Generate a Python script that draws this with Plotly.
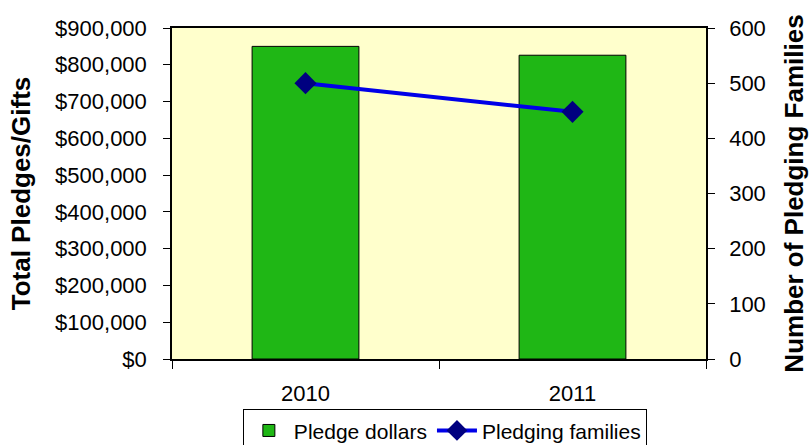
import plotly.graph_objects as go

years = ["2010", "2011"]
pledge_dollars = [850000, 826000]
pledging_families = [500, 448]

FONT = "Liberation Sans, Arial, sans-serif"

fig = go.Figure()
fig.add_trace(go.Bar(
    x=years, y=pledge_dollars, name="Pledge dollars",
    marker=dict(color="#1FB715", line=dict(color="#000000", width=1)),
    width=0.4, yaxis="y",
))
fig.add_trace(go.Scatter(
    x=years, y=pledging_families, name="Pledging families",
    mode="lines+markers",
    line=dict(color="#0000E8", width=4),
    marker=dict(symbol="diamond", size=17, color="#000080"),
    yaxis="y2",
))

fig.update_layout(
    width=809, height=445,
    margin=dict(l=172, r=103, t=28, b=86, autoexpand=False),
    paper_bgcolor="white", plot_bgcolor="#FFFFCC",
    font=dict(family=FONT, size=22, color="#000000"),
    showlegend=True,
    legend=dict(
        orientation="h", x=0.511, xanchor="center", y=-0.152, yanchor="top",
        bordercolor="#000000", borderwidth=1, bgcolor="white",
        font=dict(family=FONT, size=21), itemwidth=40, tracegroupgap=0,
    ),
    xaxis=dict(
        type="category", showline=True, linecolor="#000000", linewidth=1.5,
        mirror=True, ticks="outside", tickson="boundaries", ticklen=8,
        tickcolor="#000000", showgrid=False, ticklabelstandoff=14,
        range=[-0.5, 1.5], automargin=False,
    ),
    yaxis=dict(
        range=[0, 900000], dtick=100000, tickprefix="$", tickformat=",d",
        showline=True, linecolor="#000000", linewidth=1.5, ticks="outside",
        ticklen=7, tickcolor="#000000", showgrid=False, zeroline=False,
        ticklabelstandoff=12, automargin=False,
        title=dict(text="<b>Total Pledges/Gifts</b>", font=dict(family=FONT, size=26), standoff=17),
    ),
    yaxis2=dict(
        range=[0, 600], dtick=100, overlaying="y", side="right",
        showline=True, linecolor="#000000", linewidth=1.5, ticks="outside",
        ticklen=7, tickcolor="#000000", showgrid=False, zeroline=False,
        ticklabelstandoff=10, automargin=False,
        title=dict(text="<b>Number of Pledging Families</b>", font=dict(family=FONT, size=26), standoff=20),
    ),
    yaxis3=dict(
        range=[0, 900000], dtick=100000, overlaying="y", side="left",
        ticks="inside", ticklen=8, tickcolor="#000000", showticklabels=False,
        showgrid=False, zeroline=False, showline=False, automargin=False,
    ),
    yaxis4=dict(
        range=[0, 600], dtick=100, overlaying="y", side="right",
        ticks="inside", ticklen=8, tickcolor="#000000", showticklabels=False,
        showgrid=False, zeroline=False, showline=False, automargin=False,
    ),
)

fig.write_html("out.html", post_script="document.body.style.margin='0';",
               config={"displayModeBar": False})
